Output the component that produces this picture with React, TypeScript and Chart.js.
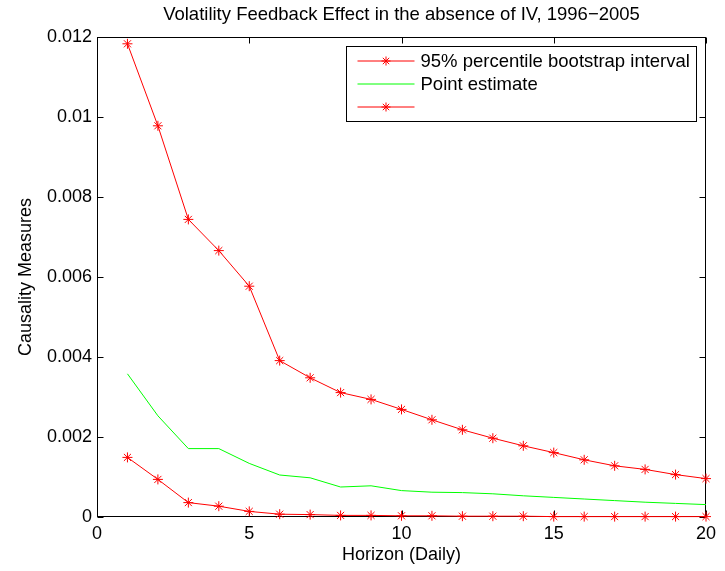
import React, { useEffect, useRef } from 'react';
import { Chart, registerables } from 'chart.js';

Chart.register(...registerables);

const horizons = [1, 2, 3, 4, 5, 6, 7, 8, 9, 10, 11, 12, 13, 14, 15, 16, 17, 18, 19, 20];
const upperBound = [0.01183, 0.00978, 0.00744, 0.00666, 0.00577, 0.00391, 0.00348, 0.00311, 0.00294, 0.00269, 0.00243, 0.00218, 0.00197, 0.00178, 0.00161, 0.00143, 0.00128, 0.00119, 0.00106, 0.00096];
const pointEstimate = [0.00358, 0.00253, 0.00171, 0.00171, 0.00134, 0.00105, 0.00098, 0.00075, 0.00078, 0.00066, 0.00062, 0.00061, 0.00058, 0.00053, 0.00049, 0.00045, 0.00041, 0.00037, 0.00034, 0.00031];
const lowerBound = [0.00149, 0.00094, 0.00036, 0.00027, 0.00014, 0.00007, 0.00006, 0.00004, 0.00004, 0.00003, 0.00003, 0.00002, 0.00002, 0.00002, 0.00001, 0.00001, 0.00001, 0.00001, 0.00001, 0.00001];

const xTicks = [0, 5, 10, 15, 20];
const yTicks = [0, 0.002, 0.004, 0.006, 0.008, 0.01, 0.012];
const seriesLabels = ['95% percentile bootstrap interval', 'Point estimate', ''];
const chartTitle = 'Volatility Feedback Effect in the absence of IV, 1996\u22122005';
const xTitle = 'Horizon (Daily)';
const yTitle = 'Causality Measures';

const FONT = '"Liberation Sans", Arial, Helvetica, sans-serif';
const FS = 18;
const FS_BIG = 18.5;
const RED = '#ff0000';
const GREEN = '#00ff00';

function drawStar(ctx: CanvasRenderingContext2D, x: number, y: number, r: number) {
  const d = r * Math.SQRT1_2;
  ctx.beginPath();
  ctx.moveTo(x - r, y);
  ctx.lineTo(x + r, y);
  ctx.moveTo(x, y - r);
  ctx.lineTo(x, y + r);
  ctx.moveTo(x - d, y - d);
  ctx.lineTo(x + d, y + d);
  ctx.moveTo(x - d, y + d);
  ctx.lineTo(x + d, y - d);
  ctx.stroke();
}

const axesBoxPlugin = {
  id: 'axesBox',
  beforeDatasetsDraw(chart: any) {
    const { ctx, chartArea, scales } = chart;
    const { left, right, top, bottom } = chartArea;
    const L = Math.round(left) + 0.5;
    const R = Math.round(right) - 0.5;
    const T = Math.round(top) + 0.5;
    const B = Math.round(bottom) - 0.5;
    ctx.save();
    ctx.strokeStyle = '#000';
    ctx.lineWidth = 1;
    ctx.strokeRect(L, T, R - L, B - T);
    const tl = 6;
    ctx.beginPath();
    xTicks.forEach((v) => {
      const px = Math.round(scales.x.getPixelForValue(v)) + 0.5;
      ctx.moveTo(px, B);
      ctx.lineTo(px, B - tl);
      ctx.moveTo(px, T);
      ctx.lineTo(px, T + tl);
    });
    yTicks.forEach((v) => {
      const py = Math.round(scales.y.getPixelForValue(v)) + 0.5;
      ctx.moveTo(L, py);
      ctx.lineTo(L + tl, py);
      ctx.moveTo(R, py);
      ctx.lineTo(R - tl, py);
    });
    ctx.stroke();
    ctx.restore();
  },
};

const legendPlugin = {
  id: 'matlabLegend',
  afterDraw(chart: any) {
    const { ctx, chartArea } = chart;
    const w = 350;
    const h = 75;
    const x0 = Math.round(chartArea.right - 10 - w) + 0.5;
    const y0 = Math.round(chartArea.top + 9) + 0.5;
    ctx.save();
    ctx.fillStyle = '#fff';
    ctx.fillRect(x0, y0, w, h);
    ctx.strokeStyle = '#000';
    ctx.lineWidth = 1;
    ctx.strokeRect(x0, y0, w, h);
    ctx.font = `${FS_BIG}px ${FONT}`;
    ctx.textBaseline = 'middle';
    ctx.textAlign = 'left';
    chart.data.datasets.forEach((ds: any, i: number) => {
      const cy = Math.round(y0 + 14 + i * 23);
      ctx.strokeStyle = ds.borderColor;
      ctx.lineWidth = 1;
      ctx.beginPath();
      ctx.moveTo(x0 + 11, cy);
      ctx.lineTo(x0 + 68, cy);
      ctx.stroke();
      if (ds.pointRadius > 0) {
        ctx.strokeStyle = ds.pointBorderColor || ds.borderColor;
        drawStar(ctx, x0 + 39.5, cy, 4.5);
      }
      ctx.fillStyle = '#000';
      ctx.fillText(ds.label, x0 + 74, cy + 1);
    });
    ctx.restore();
  },
};

function makeSeries(values: number[]) {
  return horizons.map((h, i) => ({ x: h, y: values[i] }));
}

export default function App() {
  const canvasRef = useRef<HTMLCanvasElement | null>(null);

  useEffect(() => {
    document.body.style.margin = '0';
    const canvas = canvasRef.current;
    if (!canvas) return;
    Chart.defaults.font.family = FONT;
    Chart.defaults.color = '#000';
    const chart = new Chart(canvas, {
      type: 'line',
      data: {
        datasets: [
          {
            label: seriesLabels[0],
            data: makeSeries(upperBound),
            borderColor: RED,
            backgroundColor: RED,
            borderWidth: 1,
            pointStyle: 'star',
            pointRadius: 5,
            pointBorderColor: RED,
            pointBorderWidth: 1,
            pointHoverRadius: 5,
            tension: 0,
            fill: false,
            clip: false,
          },
          {
            label: seriesLabels[1],
            data: makeSeries(pointEstimate),
            borderColor: GREEN,
            backgroundColor: GREEN,
            borderWidth: 1,
            pointRadius: 0,
            pointHoverRadius: 0,
            tension: 0,
            fill: false,
            clip: false,
          },
          {
            label: seriesLabels[2],
            data: makeSeries(lowerBound),
            borderColor: RED,
            backgroundColor: RED,
            borderWidth: 1,
            pointStyle: 'star',
            pointRadius: 5,
            pointBorderColor: RED,
            pointBorderWidth: 1,
            pointHoverRadius: 5,
            tension: 0,
            fill: false,
            clip: false,
          },
        ],
      } as any,
      options: {
        responsive: false,
        animation: false,
        events: [],
        layout: { padding: { left: 0, right: 19, top: 0, bottom: 0 } },
        plugins: {
          legend: { display: false },
          tooltip: { enabled: false },
          title: {
            display: true,
            text: chartTitle,
            fullSize: false,
            color: '#000',
            font: { family: FONT, size: FS_BIG, weight: 'normal' },
            padding: { top: 4, bottom: 10.8 },
          },
        },
        scales: {
          x: {
            type: 'linear',
            min: 0,
            max: 20,
            grid: { display: false, drawTicks: false },
            border: { display: false },
            afterBuildTicks: (scale: any) => {
              scale.ticks = xTicks.map((v) => ({ value: v }));
            },
            afterFit: (scale: any) => {
              scale.height = 54;
            },
            ticks: {
              autoSkip: false,
              maxRotation: 0,
              padding: 6.2,
              color: '#000',
              font: { family: FONT, size: FS },
              callback: (v: any) => String(v),
            },
            title: {
              display: true,
              text: xTitle,
              color: '#000',
              font: { family: FONT, size: FS },
              padding: { top: 0, bottom: 5 },
            },
          },
          y: {
            type: 'linear',
            min: 0,
            max: 0.012,
            grid: { display: false, drawTicks: false },
            border: { display: false },
            afterBuildTicks: (scale: any) => {
              scale.ticks = yTicks.map((v) => ({ value: v }));
            },
            afterFit: (scale: any) => {
              scale.width = 97;
            },
            ticks: {
              autoSkip: false,
              padding: 5,
              color: '#000',
              font: { family: FONT, size: FS },
              callback: (v: any) => String(parseFloat(Number(v).toFixed(4))),
            },
            title: {
              display: true,
              text: yTitle,
              color: '#000',
              font: { family: FONT, size: FS },
              padding: { top: 15.7, bottom: 0 },
            },
          },
        },
      } as any,
      plugins: [axesBoxPlugin, legendPlugin],
    });
    return () => {
      chart.destroy();
    };
  }, []);

  return (
    <div style={{ position: 'absolute', left: 0, top: 0, width: 725, height: 571, background: '#fff' }}>
      <canvas ref={canvasRef} width={725} height={571} style={{ display: 'block', width: 725, height: 571 }} />
    </div>
  );
}
